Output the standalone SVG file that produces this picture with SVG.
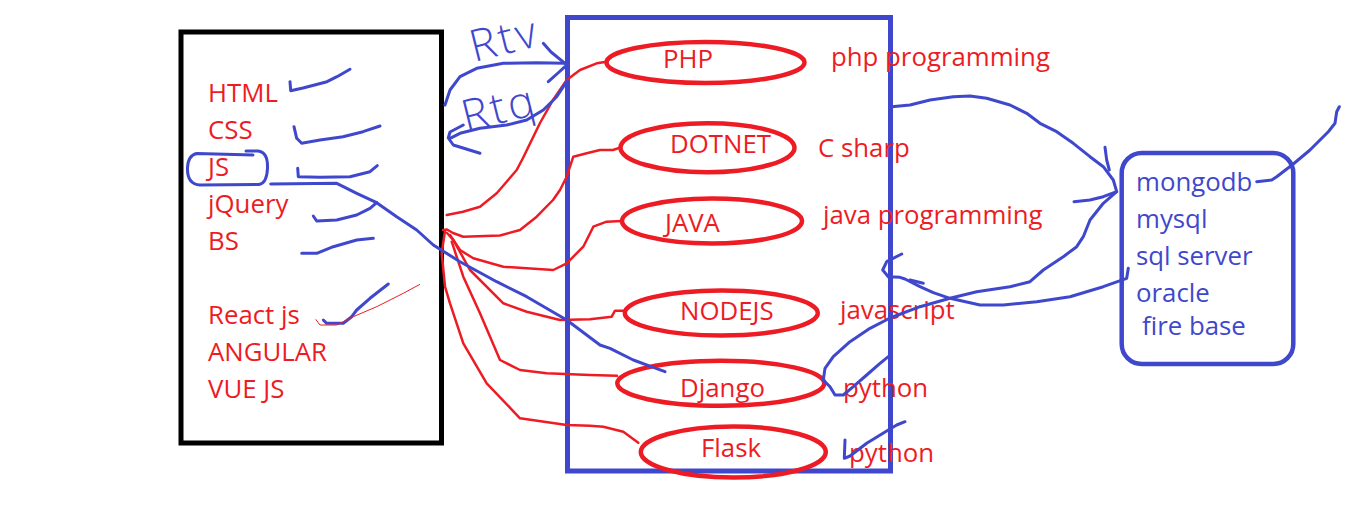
<svg xmlns="http://www.w3.org/2000/svg" width="1360" height="522" viewBox="0 0 1360 522">
<style>
.t{font-family:"Open Sans","Liberation Sans",sans-serif;font-size:25.8px;fill:#ed1c24}
.tb{font-family:"Open Sans","Liberation Sans",sans-serif;font-size:25.8px;fill:#3f48cc}
.hw{font-family:"Open Sans","Liberation Sans",sans-serif;font-size:44px;fill:#3f48cc;font-weight:300;letter-spacing:3px}
.rl{fill:none;stroke:#ed1c24;stroke-width:2.5;stroke-linejoin:round;stroke-linecap:round}
.bl{fill:none;stroke:#3f48cc;stroke-width:3;stroke-linejoin:round;stroke-linecap:round}
.el{fill:none;stroke:#ed1c24;stroke-width:4.5}
</style>
<rect width="1360" height="522" fill="#ffffff"/>

<g id="frontend">
<rect x="181" y="32" width="260.5" height="411" fill="none" stroke="#000000" stroke-width="5"/>
<text class="t" x="208" y="101.5">HTML</text>
<text class="t" x="208" y="138.5">CSS</text>
<text class="t" x="208" y="175.5">JS</text>
<text class="t" x="208" y="213">jQuery</text>
<text class="t" x="208" y="250">BS</text>
<text class="t" x="208" y="323.5">React js</text>
<text class="t" x="208" y="360.5">ANGULAR</text>
<text class="t" x="208" y="397.5">VUE JS</text>
<path class="bl" d="M253,155 L197,153.5 Q188,155 187.5,168 Q187,184 200,185 L259,184.5 Q267,183 267.5,168 Q268,152 258,151 L246,151"/>
<polyline class="bl" points="290,81.7 290.7,90.7 303,88 327,81.7 337,76.7 350,69.3"/>
<polyline class="bl" points="294,126.7 296.7,138.3 301.7,143.3 320,140 343,136.7 363,131.7 380,126"/>
<polyline class="bl" points="297.7,168.3 298.3,176.7 320,177.3 350,176.7 370,171.7 377.3,165.7"/>
<polyline class="bl" points="313.3,216 316.7,221 336.7,220 356.7,215 370,208.3 376.7,202.7"/>
<polyline class="bl" points="301.7,253.3 316.7,253.3 333.3,246.7 356.7,240 373.3,238.3"/>
<polyline class="bl" points="323.3,320 326.7,323.3 343.3,323.3 351.7,316.7 356.7,310 370,298.3 388.3,284"/>
<polyline fill="none" stroke="#ed1c24" stroke-width="1" points="315.7,319.3 320,325 336.7,325 353.3,316.7 376.7,306.7 403.3,293.3 420,284.3"/>
</g>

<g id="backend">
<rect x="567.5" y="17.5" width="323" height="453.5" fill="none" stroke="#3f48cc" stroke-width="5"/>
</g>

<g id="php">
<ellipse class="el" cx="705.5" cy="62.5" rx="99" ry="20.5"/>
<text class="t" x="663" y="68">PHP</text>
<text class="t" x="831" y="65.5">php programming</text>
</g>
<g id="dotnet">
<ellipse class="el" cx="707.5" cy="147.7" rx="87" ry="24.5"/>
<text class="t" x="670" y="153">DOTNET</text>
<text class="t" x="818" y="157">C sharp</text>
</g>
<g id="java">
<ellipse class="el" cx="712" cy="221" rx="90" ry="22.5"/>
<text class="t" x="665" y="231.5">JAVA</text>
<text class="t" x="823" y="224">java programming</text>
</g>
<g id="nodejs">
<ellipse class="el" cx="721.3" cy="313" rx="96.5" ry="22.5"/>
<text class="t" x="680" y="320">NODEJS</text>
<text class="t" x="840" y="319">javascript</text>
</g>
<g id="django">
<ellipse class="el" cx="720.8" cy="383.3" rx="103.5" ry="22.5"/>
<text class="t" x="680" y="397.3">Django</text>
<text class="t" x="843" y="397">python</text>
</g>
<g id="flask">
<ellipse class="el" cx="733.3" cy="452" rx="92.5" ry="25.5"/>
<text class="t" x="701" y="456.7">Flask</text>
<text class="t" x="849" y="462">python</text>
</g>

<g id="databases">
<rect x="1121.7" y="153" width="171.6" height="211" rx="20" ry="20" fill="none" stroke="#3f48cc" stroke-width="4.5"/>
<text class="tb" x="1136" y="190.5">mongodb</text>
<text class="tb" x="1136" y="227.5">mysql</text>
<text class="tb" x="1136" y="265">sql server</text>
<text class="tb" x="1136" y="302">oracle</text>
<text class="tb" x="1142" y="335">fire base</text>
</g>

<g id="req-res">
<text class="hw" x="474" y="62" transform="rotate(-14 474 62)">Rtv</text>
<text class="hw" x="466" y="132" transform="rotate(-14 466 132)">Rtq</text>
</g>

<g id="connectors">
<polyline class="rl" points="446.7,215 463,211.7 480,206.7 496.7,193.3 516.7,170 523,158 540,123 553,100 566.7,80 580,70 596.7,63.3 606.7,61.7"/>
<polyline class="rl" points="443,230 447,229.5 453,233 463.3,236.7 500,235.5 520,230 536.7,216.7 553,200 560,190 566.7,176.7 573.3,156.7 586.7,153.3 600,150 613,150 620.5,147.5"/>
<polyline class="rl" points="450,235 460,250 473.3,258.3 503.3,266.7 553.3,270 566.7,263.3 583.3,246.7 593.3,226.7 606.7,221.7 622,221"/>
<polyline class="rl" points="447,233 453.3,240 470,270 503.3,303.3 526.7,311.7 560,320 590,319.3 611.7,316.7 615,310.7 625,310.7"/>
<polyline class="rl" points="451.7,241.7 463.3,276.7 480,313.3 500,360 520,370 546.7,373.3 590,375 617,375.7"/>
<polyline class="rl" points="445,231 441.7,253.3 445,286.7 450,303.3 463.3,343.3 486.7,383.3 520,418.3 566.7,425 590,425.7 603.3,426.7 623.3,431.7 638.3,442.7"/>

<polyline class="bl" points="270.7,184 336.7,183.3 343.3,186.7 356.7,193.3 376.7,202.7 396.7,216.7 416.7,230 433.3,245 460,261.7 496.7,281.7 526.7,296.7 566.7,320 600,345 610,348.3 633.3,360 653.3,367.3 665,371.7"/>

<polyline class="bl" points="445,105 450,90 460,76.7 476.7,68.3 503.3,63.3 536.7,62.7 565,63.3"/>
<polyline class="bl" points="543.3,43.3 551,52 565,63.3"/>
<polyline class="bl" points="548.3,81.7 558,73 565,66.7"/>
<polyline class="bl" points="566.7,81.7 556.7,96.7 543.3,110 526.7,120 506.7,125 480,128.3 460,133.3 450,138.3"/>
<polyline class="bl" points="463.3,125 450,132 448.3,138 453.3,145 480,153.3"/>

<polyline class="bl" points="891.7,106.7 910,105 930,100 953.3,96.7 970,96 986.7,98.3 1010,105 1026.7,113.3 1040,123.3 1056.7,131.7 1073.3,143.3 1090,156.7 1103.3,166.7 1113.3,180 1116.7,191.7 1103.3,203.3 1090,220 1083.3,236.7 1076.7,246.7 1063.3,256.7 1043.3,270 1030,281.7 1010,286.7 976.7,291.7 950,298.3 920,306.7 890,318 870,328.3 850,341.7 833.3,356.7 825,368.3 823.3,380 830,386.7 835,395 843.3,395 853.3,386.7 866.7,375 880,363.3 888.3,356.7"/>
<polyline class="bl" points="1105,147.3 1106.7,160 1109.3,170"/>
<polyline class="bl" points="1074,201.7 1090,200 1103.3,196.7 1116.7,191.7"/>
<polyline class="bl" points="1128.3,268.3 1126.7,278.3 1103.3,286.7 1070,296.7 1036.7,301.7 1003.3,305 980,305 950,298.3 933.3,292.7 920,286.7 905,279 900,277.3 888.3,276.7 882.7,270 886.7,261.7 901.7,254"/>
<polyline class="bl" points="910,280 923.3,283.3"/>
<polyline class="bl" points="845,440 844.3,458.3 850,456 866.7,443.3 888.3,430 896.7,425 905,421.7"/>
<polyline class="bl" points="1256.7,181.7 1271.7,180 1276.7,176.7 1293.3,164 1310,150 1328.3,131.7 1335,123.3 1336.7,111.7 1339.3,106.7"/>
</g>
</svg>
